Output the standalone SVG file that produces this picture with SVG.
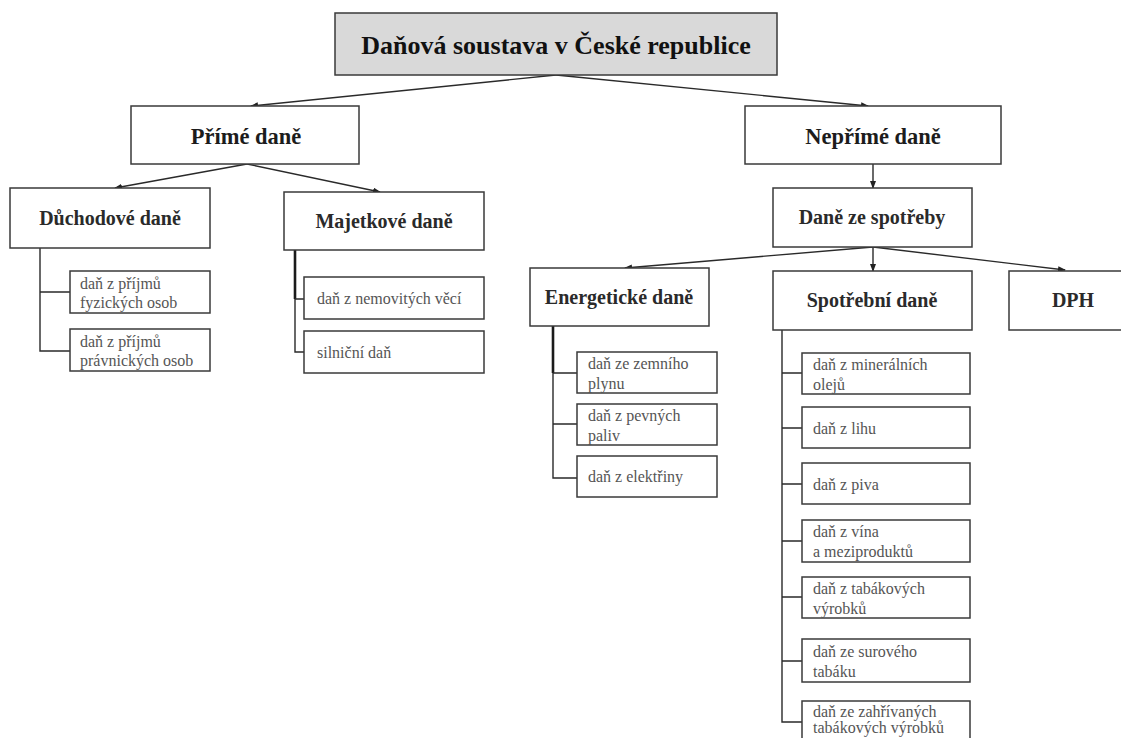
<svg xmlns="http://www.w3.org/2000/svg" width="1121" height="738" viewBox="0 0 1121 738">
<defs>
<marker id="arr" markerUnits="userSpaceOnUse" markerWidth="8" markerHeight="6" refX="7" refY="3" orient="auto">
<path d="M0,0 L8,3 L0,6 z" fill="#222"/>
</marker>
<style>
.box{fill:#fff;stroke:#3a3a3a;stroke-width:1.5}
.title{fill:#d9d9d9;stroke:#3a3a3a;stroke-width:1.5}
.ln{stroke:#2a2a2a;stroke-width:1.4;fill:none}
.thick{stroke:#1a1a1a;stroke-width:2.6;fill:none}
.t0{font-family:"Liberation Serif","Times New Roman",serif;font-weight:bold;font-size:26px;fill:#111;text-anchor:middle}
.t1{font-family:"Liberation Serif","Times New Roman",serif;font-weight:bold;font-size:22.5px;fill:#1c1c1c;text-anchor:middle}
.t2{font-family:"Liberation Serif","Times New Roman",serif;font-weight:bold;font-size:20px;fill:#2a2a2a;text-anchor:middle}
.t3{font-family:"Liberation Serif","Times New Roman",serif;font-size:16px;fill:#555}
</style>
</defs>
<rect width="1121" height="738" fill="#fff"/>

<g id="connectors">
<line class="ln" x1="556" y1="75" x2="251" y2="106" marker-end="url(#arr)"/>
<line class="ln" x1="556" y1="75" x2="868" y2="106" marker-end="url(#arr)"/>
<line class="ln" x1="247" y1="164" x2="115" y2="188" marker-end="url(#arr)"/>
<line class="ln" x1="247" y1="164" x2="380" y2="192" marker-end="url(#arr)"/>
<line class="ln" x1="873" y1="164" x2="873" y2="188" marker-end="url(#arr)"/>
<line class="ln" x1="873" y1="247" x2="625" y2="268" marker-end="url(#arr)"/>
<line class="ln" x1="873" y1="247" x2="873" y2="271" marker-end="url(#arr)"/>
<line class="ln" x1="873" y1="247" x2="1065" y2="270" marker-end="url(#arr)"/>
<path class="ln" d="M40,248 V351 H70 M40,292 H70"/>
<path class="thick" d="M295,250 V299"/>
<path class="ln" d="M295,299 V352 H304 M295,299 H304"/>
<path class="thick" d="M553,326 V373"/>
<path class="ln" d="M553,373 V478 H577 M553,373 H577 M553,424 H577"/>
<path class="ln" d="M782,330 V722 H802 M782,373 H802 M782,428 H802 M782,484 H802 M782,541 H802 M782,597 H802 M782,661 H802"/>
</g>

<g id="n-root"><rect class="title" x="335" y="13" width="442" height="62"/><text class="t0" x="556" y="54">Daňová soustava v České republice</text></g>
<g id="n-prime"><rect class="box" x="131" y="106" width="228" height="58"/><text class="t1" x="246" y="144">Přímé daně</text></g>
<g id="n-neprime"><rect class="box" x="745" y="106" width="256" height="58"/><text class="t1" x="873" y="144">Nepřímé daně</text></g>
<g id="n-duchodove"><rect class="box" x="10" y="188" width="200" height="60"/><text class="t2" x="110" y="225">Důchodové daně</text></g>
<g id="n-majetkove"><rect class="box" x="284" y="192" width="200" height="58"/><text class="t2" x="384" y="228">Majetkové daně</text></g>
<g id="n-fyz"><rect class="box" x="70" y="271" width="140" height="42"/><text class="t3" x="80" y="289">daň z příjmů</text><text class="t3" x="80" y="308">fyzických osob</text></g>
<g id="n-prav"><rect class="box" x="70" y="329" width="140" height="42"/><text class="t3" x="80" y="347">daň z příjmů</text><text class="t3" x="80" y="366">právnických osob</text></g>
<g id="n-nemov"><rect class="box" x="304" y="277" width="180" height="42"/><text class="t3" x="317" y="304">daň z nemovitých věcí</text></g>
<g id="n-silnicni"><rect class="box" x="304" y="331" width="180" height="42"/><text class="t3" x="317" y="358">silniční daň</text></g>

<g id="n-spotreby"><rect class="box" x="773" y="188" width="199" height="59"/><text class="t2" x="872" y="224">Daně ze spotřeby</text></g>
<g id="n-energeticke"><rect class="box" x="530" y="268" width="179" height="58"/><text class="t2" x="619" y="304">Energetické daně</text></g>
<g id="n-spotrebni"><rect class="box" x="773" y="271" width="199" height="59"/><text class="t2" x="872" y="307">Spotřební daně</text></g>
<g id="n-dph"><rect class="box" x="1009" y="271" width="128" height="59"/><text class="t2" x="1073" y="307">DPH</text></g>

<g id="n-plyn"><rect class="box" x="577" y="352" width="140" height="41"/><text class="t3" x="588" y="369">daň ze zemního</text><text class="t3" x="588" y="389">plynu</text></g>
<g id="n-paliva"><rect class="box" x="577" y="404" width="140" height="41"/><text class="t3" x="588" y="421">daň z pevných</text><text class="t3" x="588" y="441">paliv</text></g>
<g id="n-elektrina"><rect class="box" x="577" y="456" width="140" height="41"/><text class="t3" x="588" y="482">daň z elektřiny</text></g>

<g id="n-oleje"><rect class="box" x="802" y="353" width="168" height="41"/><text class="t3" x="813" y="370">daň z minerálních</text><text class="t3" x="813" y="390">olejů</text></g>
<g id="n-lih"><rect class="box" x="802" y="407" width="168" height="41"/><text class="t3" x="813" y="434">daň z lihu</text></g>
<g id="n-pivo"><rect class="box" x="802" y="463" width="168" height="41"/><text class="t3" x="813" y="490">daň z piva</text></g>
<g id="n-vino"><rect class="box" x="802" y="520" width="168" height="42"/><text class="t3" x="813" y="537">daň z vína</text><text class="t3" x="813" y="557">a meziproduktů</text></g>
<g id="n-tabak"><rect class="box" x="802" y="577" width="168" height="41"/><text class="t3" x="813" y="594">daň z tabákových</text><text class="t3" x="813" y="614">výrobků</text></g>
<g id="n-surovy"><rect class="box" x="802" y="639" width="168" height="43"/><text class="t3" x="813" y="657">daň ze surového</text><text class="t3" x="813" y="677">tabáku</text></g>
<g id="n-zahrivane"><rect class="box" x="802" y="701" width="168" height="42"/><text class="t3" x="813" y="717">daň ze zahřívaných</text><text class="t3" x="813" y="733">tabákových výrobků</text></g>
</svg>
